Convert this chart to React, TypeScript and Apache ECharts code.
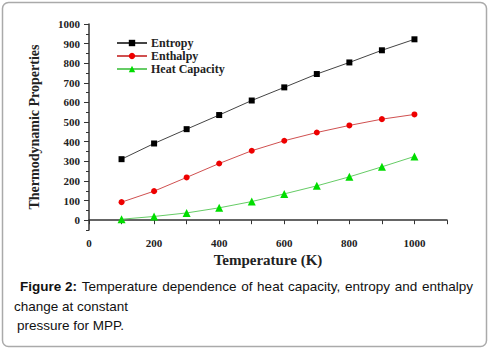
import React, { useEffect, useRef } from "react";
import * as echarts from "echarts";

const temperatures = [100, 200, 300, 400, 500, 600, 700, 800, 900, 1000];
const entropy = [311, 391, 464, 536, 610, 677, 745, 804, 866, 922];
const enthalpy = [92, 148, 218, 289, 354, 405, 447, 483, 515, 539];
const heatCapacity = [5, 19, 37, 63, 95, 134, 175, 221, 272, 325];
const xLabels = [0, 200, 400, 600, 800, 1000];
const xTicks = [0, 100, 200, 300, 400, 500, 600, 700, 800, 900, 1000, 1100];
const yLabels = [0, 100, 200, 300, 400, 500, 600, 700, 800, 900, 1000];
const yMinorTicks = [-50, 0, 50, 100, 150, 200, 250, 300, 350, 400, 450, 500, 550, 600, 650, 700, 750, 800, 850, 900, 950, 1000];

const captionLine1 = ["Temperature", "dependence", "of", "heat", "capacity,", "entropy", "and", "enthalpy"];
const captionBold = "Figure 2:";
const captionLine2 = "change at constant";
const captionLine3 = "pressure for MPP.";

export default function App() {
  const ref = useRef<HTMLDivElement>(null);
  useEffect(() => {
    if (!ref.current) return;
    const chart = echarts.init(ref.current, undefined, { renderer: "svg" });
    const serif = "'Liberation Serif', 'DejaVu Serif', serif";
    const sans = "'Liberation Sans', Arial, sans-serif";
    const capSize = 13.5;

    // justify caption line 1
    const canvas = document.createElement("canvas");
    const ctx = canvas.getContext("2d")!;
    ctx.font = `bold ${capSize}px ${sans}`;
    const boldW = ctx.measureText(captionBold).width;
    ctx.font = `${capSize}px ${sans}`;
    const widths = captionLine1.map((w) => ctx.measureText(w).width);
    const startX = 20;
    const endX = 473;
    const total = boldW + widths.reduce((a, b) => a + b, 0);
    const gap = (endX - startX - total) / captionLine1.length;
    const line1Els: any[] = [
      {
        type: "text",
        left: startX,
        top: 279,
        style: { text: captionBold, font: `bold ${capSize}px ${sans}`, fill: "#111" },
      },
    ];
    let cx = startX + boldW + gap;
    captionLine1.forEach((w, i) => {
      line1Els.push({
        type: "text",
        left: cx,
        top: 279,
        style: { text: w, font: `${capSize}px ${sans}`, fill: "#111" },
      });
      cx += widths[i] + gap;
    });

    const axisText = { fontFamily: serif, fontWeight: "bold" as const, fontSize: 11, color: "#222" };

    chart.setOption({
      animation: false,
      backgroundColor: "#fff",
      grid: { left: 89, right: 43, top: 24, bottom: 120 },
      legend: {
        orient: "vertical",
        left: 111,
        top: 32,
        itemWidth: 30,
        itemHeight: 8,
        itemGap: 1,
        textStyle: { fontFamily: serif, fontWeight: "bold", fontSize: 12, color: "#222", padding: [0, 0, 0, -1] },
        data: ["Entropy", "Enthalpy", "Heat Capacity"],
      },
      xAxis: {
        type: "value",
        min: 0,
        max: 1100,
        name: "Temperature (K)",
        nameLocation: "middle",
        nameGap: 21,
        nameTextStyle: { fontFamily: serif, fontWeight: "bold", fontSize: 15, color: "#222" },
        axisLine: { lineStyle: { color: "#333", width: 1.5 } },
        axisTick: { customValues: xTicks, length: 4, lineStyle: { color: "#333" } },
        axisLabel: { ...axisText, customValues: xLabels, margin: 7, formatter: (v: number) => String(v) },
        splitLine: { show: false },
      },
      yAxis: [
        {
          type: "value",
          min: -50,
          max: 1000,
          name: "Thermodynamic Properties",
          nameLocation: "middle",
          nameGap: 48,
          nameTextStyle: { fontFamily: serif, fontWeight: "bold", fontSize: 14, color: "#222" },
          axisLine: { show: true, lineStyle: { color: "#333", width: 1.5 } },
          axisTick: { customValues: yLabels, length: 5, lineStyle: { color: "#333" } },
          axisLabel: { ...axisText, customValues: yLabels, margin: 9, formatter: (v: number) => String(v) },
          splitLine: { show: false },
        },
        {
          type: "value",
          min: -50,
          max: 1000,
          position: "left",
          axisLine: { show: false },
          axisTick: { show: true, customValues: yMinorTicks, length: 3, lineStyle: { color: "#333" } },
          axisLabel: { show: false },
          splitLine: { show: false },
        },
      ],
      series: [
        {
          name: "Entropy",
          type: "line",
          data: temperatures.map((t, i) => [t, entropy[i]]),
          symbol: "rect",
          symbolSize: 6,
          itemStyle: { color: "#000" },
          lineStyle: { color: "#444", width: 1 },
        },
        {
          name: "Enthalpy",
          type: "line",
          data: temperatures.map((t, i) => [t, enthalpy[i]]),
          symbol: "circle",
          symbolSize: 6,
          itemStyle: { color: "#ee0000" },
          lineStyle: { color: "#d05050", width: 1 },
        },
        {
          name: "Heat Capacity",
          type: "line",
          data: temperatures.map((t, i) => [t, heatCapacity[i]]),
          symbol: "triangle",
          symbolSize: 8,
          itemStyle: { color: "#00dd00" },
          lineStyle: { color: "#66cc66", width: 1 },
        },
      ],
      graphic: [
        {
          type: "rect",
          shape: { x: 2.5, y: 2.5, width: 484, height: 344, r: 6 },
          style: { fill: "none", stroke: "#aaa", lineWidth: 1.5 },
          silent: true,
        },
        ...line1Els,
        {
          type: "text",
          left: 14,
          top: 299,
          style: { text: captionLine2, font: `${capSize}px ${sans}`, fill: "#111" },
        },
        {
          type: "text",
          left: 17,
          top: 318,
          style: { text: captionLine3, font: `${capSize}px ${sans}`, fill: "#111" },
        },
      ],
    });
    return () => chart.dispose();
  }, []);
  return <div ref={ref} style={{ position: "fixed", left: 0, top: 0, width: 490, height: 350 }} />;
}
